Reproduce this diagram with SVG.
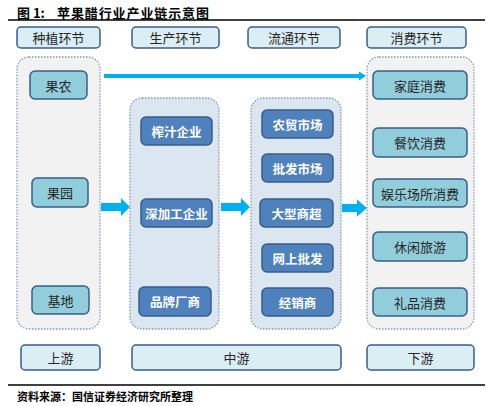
<svg xmlns="http://www.w3.org/2000/svg" width="497" height="406" viewBox="0 0 497 406">
<defs>
<style>
.t{font-family:"Noto Sans CJK SC","Liberation Sans",sans-serif;font-size:13px;text-anchor:middle;dominant-baseline:central;fill:#262626}
.tw{font-family:"Noto Sans CJK SC","Liberation Sans",sans-serif;font-size:12.5px;text-anchor:middle;dominant-baseline:central;fill:#ffffff;font-weight:bold}
.hdr{fill:#dbeef4;stroke:#385d8a;stroke-width:1.5}
.lt{fill:#92cddc;stroke:#385d8a;stroke-width:1.5}
.dk{fill:#4f81bd;stroke:#385d8a;stroke-width:1.5}
.cg{fill:#f2f2f2;stroke:#8497b0;stroke-width:1.3;stroke-dasharray:1.5 1.5}
.cb{fill:#dce6f1;stroke:#8497b0;stroke-width:1.3;stroke-dasharray:1.5 1.5}
.ar{fill:#00b0f0}
.ttl{font-family:"Noto Sans CJK SC",sans-serif;font-size:13px;font-weight:bold;dominant-baseline:central;fill:#000}
</style>
</defs>
<rect width="497" height="406" fill="#ffffff"/>
<text class="ttl" x="17" y="12">图 1:</text>
<text class="ttl" x="57" y="12" style="letter-spacing:0.9px">苹果醋行业产业链示意图</text>
<line x1="8" y1="20" x2="485" y2="20" stroke="#000" stroke-width="1.3"/>

<g id="hdr-plant"><rect class="hdr" x="17" y="27" width="83" height="21" rx="4"/><text class="t" x="58.5" y="37.5">种植环节</text></g>
<g id="hdr-prod"><rect class="hdr" x="132" y="27" width="87" height="21" rx="4"/><text class="t" x="175.5" y="37.5">生产环节</text></g>
<g id="hdr-circ"><rect class="hdr" x="248" y="27" width="92" height="21" rx="4"/><text class="t" x="294" y="37.5">流通环节</text></g>
<g id="hdr-cons"><rect class="hdr" x="367" y="27" width="99" height="21" rx="4"/><text class="t" x="416.5" y="37.5">消费环节</text></g>

<g id="box-up"><rect class="cg" x="17" y="57" width="83" height="272" rx="12"/></g>
<g id="box-mid1"><rect class="cb" x="130" y="98" width="89" height="231" rx="12"/></g>
<g id="box-mid2"><rect class="cb" x="251" y="98" width="90" height="231" rx="12"/></g>
<g id="box-down"><rect class="cg" x="367" y="57" width="107" height="272" rx="12"/></g>

<g id="n-guonong"><rect class="lt" x="30" y="71" width="57" height="28" rx="5"/><text class="t" x="58.5" y="85">果农</text></g>
<g id="n-guoyuan"><rect class="lt" x="32" y="178" width="56" height="29" rx="5"/><text class="t" x="60" y="192.5">果园</text></g>
<g id="n-jidi"><rect class="lt" x="32" y="286" width="57" height="28" rx="5"/><text class="t" x="60.5" y="300">基地</text></g>

<g id="n-zhazhi"><rect class="dk" x="141" y="117" width="71" height="28" rx="5"/><text class="tw" x="176.5" y="131">榨汁企业</text></g>
<g id="n-shenjiagong"><rect class="dk" x="141" y="199" width="71" height="28" rx="5"/><text class="tw" x="176.5" y="213">深加工企业</text></g>
<g id="n-pinpai"><rect class="dk" x="139" y="287" width="72" height="29" rx="5"/><text class="tw" x="175" y="301.5">品牌厂商</text></g>

<g id="n-nongmao"><rect class="dk" x="262" y="110" width="71" height="28" rx="5"/><text class="tw" x="297.5" y="124">农贸市场</text></g>
<g id="n-pifa"><rect class="dk" x="262" y="154" width="71" height="28" rx="5"/><text class="tw" x="297.5" y="168">批发市场</text></g>
<g id="n-shangchao"><rect class="dk" x="260" y="199" width="73" height="28" rx="5"/><text class="tw" x="296.5" y="213">大型商超</text></g>
<g id="n-wangshang"><rect class="dk" x="262" y="244" width="71" height="28" rx="5"/><text class="tw" x="297.5" y="258">网上批发</text></g>
<g id="n-jingxiao"><rect class="dk" x="262" y="288" width="71" height="28" rx="5"/><text class="tw" x="297.5" y="302">经销商</text></g>

<g id="n-jiating"><rect class="lt" x="373" y="71" width="94" height="28" rx="5"/><text class="t" x="420" y="85">家庭消费</text></g>
<g id="n-canyin"><rect class="lt" x="373" y="128" width="94" height="29" rx="5"/><text class="t" x="420" y="142.5">餐饮消费</text></g>
<g id="n-yule"><rect class="lt" x="373" y="179" width="94" height="28" rx="5"/><text class="t" x="420" y="193">娱乐场所消费</text></g>
<g id="n-xiuxian"><rect class="lt" x="373" y="232" width="94" height="29" rx="5"/><text class="t" x="420" y="246.5">休闲旅游</text></g>
<g id="n-lipin"><rect class="lt" x="373" y="288" width="94" height="28" rx="5"/><text class="t" x="420" y="302">礼品消费</text></g>

<g id="ft-up"><rect class="hdr" x="21" y="345" width="79" height="25" rx="4"/><text class="t" x="60.5" y="357.5">上游</text></g>
<g id="ft-mid"><rect class="hdr" x="132" y="345" width="209" height="25" rx="4"/><text class="t" x="236.5" y="357.5">中游</text></g>
<g id="ft-down"><rect class="hdr" x="367" y="345" width="107" height="25" rx="4"/><text class="t" x="420.5" y="357.5">下游</text></g>

<g id="connectors">
<rect class="ar" x="104" y="74" width="257" height="4"/>
<polygon class="ar" points="359,71.5 366,76 359,80.5"/>
<polygon class="ar" points="101,203 121,203 121,198 130,207 121,216 121,211 101,211"/>
<polygon class="ar" points="221,203 241,203 241,198 250,207 241,216 241,211 221,211"/>
<polygon class="ar" points="342,204 357,204 357,199.5 367,208 357,216.5 357,212 342,212"/>
</g>

<line x1="8" y1="385" x2="485" y2="385" stroke="#000" stroke-width="1.3"/>
<text x="17" y="396" style="font-family:'Noto Sans CJK SC',serif;font-size:11px;font-weight:bold;dominant-baseline:central;fill:#000">资料来源：国信证券经济研究所整理</text>
</svg>
